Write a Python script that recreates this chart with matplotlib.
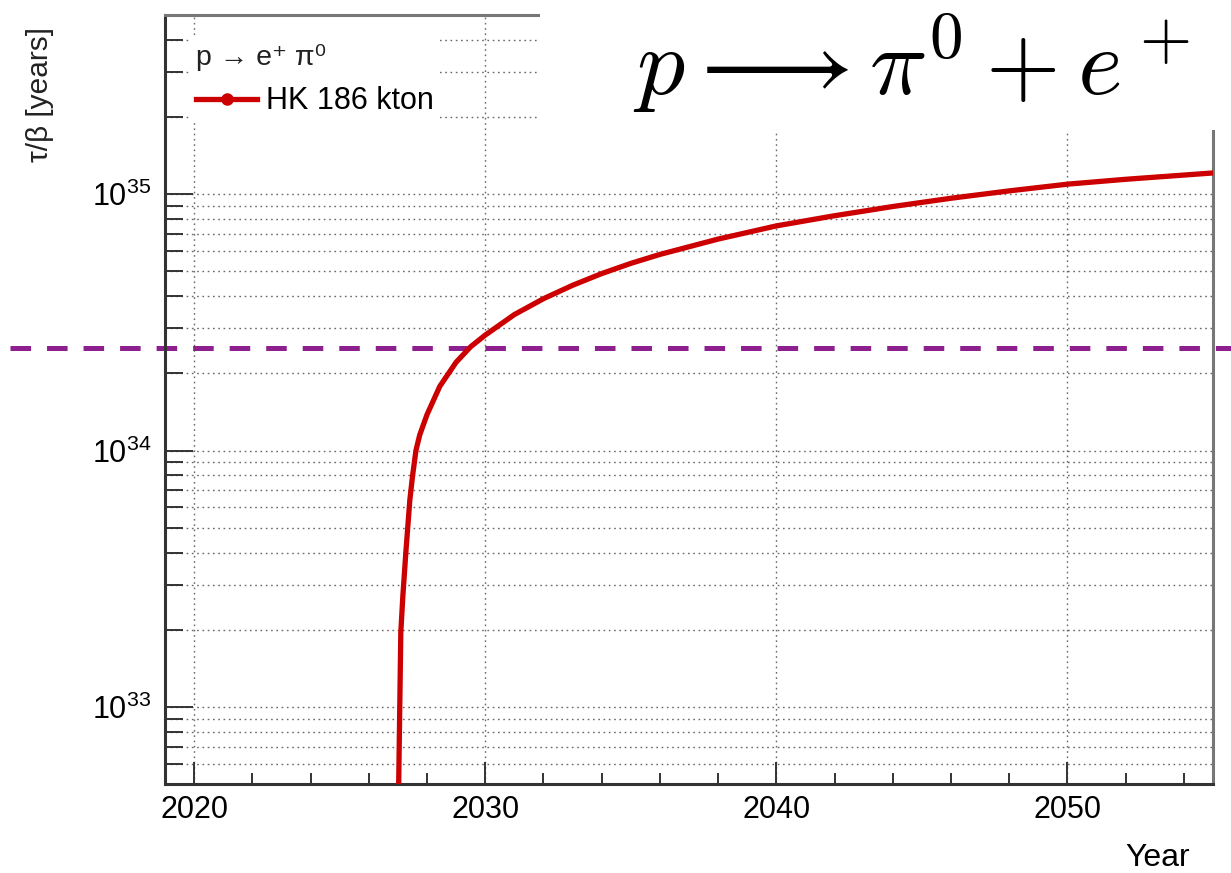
import matplotlib
matplotlib.use("Agg")
import matplotlib.pyplot as plt
from matplotlib.lines import Line2D
from matplotlib.patches import Rectangle
from matplotlib.ticker import LogLocator, MultipleLocator, FixedLocator, NullFormatter
from matplotlib.transforms import blended_transform_factory

plt.rcParams['font.family'] = ['Liberation Sans', 'DejaVu Sans']
plt.rcParams['lines.scale_dashes'] = False

# Sensitivity projection for p -> e+ pi0 (Hyper-K, 186 kton fiducial)
years = [2027.00, 2027.10, 2027.17, 2027.28, 2027.41, 2027.50, 2027.62, 2027.75,
         2028.00, 2028.44, 2029.00, 2029.50, 2030.00, 2031.00, 2032.00, 2033.00,
         2034.00, 2035.00, 2036.00, 2038.00, 2040.00, 2042.00, 2044.00, 2046.00,
         2048.00, 2050.00, 2052.00, 2055.00]
lifetime = [3.0e32, 1.95e33, 2.7e33, 4.1e33, 6.4e33, 7.9e33, 1.0e34, 1.15e34,
            1.38e34, 1.78e34, 2.21e34, 2.54e34, 2.82e34, 3.39e34, 3.91e34, 4.41e34,
            4.90e34, 5.37e34, 5.82e34, 6.68e34, 7.52e34, 8.24e34, 8.95e34, 9.64e34,
            1.03e35, 1.094e35, 1.143e35, 1.21e35]
current_limit = 2.5e34

x_major = [2020, 2030, 2040, 2050]
x_labels = ['2020', '2030', '2040', '2050']

W, H = 1231, 873
fig = plt.figure(figsize=(W / 100, H / 100), dpi=100)
ax = fig.add_axes([165 / W, 1 - 784 / H, (1213 - 165) / W, (784 - 15) / H])
ax.set_zorder(2)
ax.patch.set_visible(False)

ax.plot(years, lifetime, color='#cc0000', lw=3.8, solid_capstyle='butt',
        solid_joinstyle='round', zorder=4)

ax.set_yscale('log')
ax.set_xlim(2019, 2055)
ax.set_ylim(5e32, 5e35)

ax.xaxis.set_major_locator(FixedLocator(x_major))
ax.set_xticklabels(x_labels)
ax.xaxis.set_minor_locator(MultipleLocator(2))
ax.yaxis.set_major_locator(LogLocator(base=10, numticks=10))
ax.yaxis.set_minor_locator(LogLocator(base=10, subs=range(2, 10), numticks=20))
ax.yaxis.set_minor_formatter(NullFormatter())

grid_kw = dict(color='#444444', lw=1.0, linestyle=(0, (1.2, 2.6)), alpha=0.8)
ax.grid(True, axis='x', which='major', **grid_kw)
ax.grid(True, axis='y', which='both', **grid_kw)

ax.tick_params(axis='x', which='major', direction='in', length=16, width=1.4,
               color='#333333', labelsize=22, pad=8)
ax.tick_params(axis='x', which='minor', direction='in', length=8, width=1.4,
               color='#333333')
ax.tick_params(axis='y', which='major', direction='in', length=20, width=1.4,
               color='#333333', labelsize=22, pad=10)
ax.tick_params(axis='y', which='minor', direction='in', length=13, width=1.4,
               color='#333333')

for side in ['left', 'bottom']:
    ax.spines[side].set_linewidth(2.2)
    ax.spines[side].set_color('#333333')
for side in ['right', 'top']:
    ax.spines[side].set_linewidth(2.2)
    ax.spines[side].set_color('#777777')

ax.set_xlabel('Year', fontsize=23, loc='right')
ax.xaxis.set_label_coords((1190 - 165) / (1213 - 165), -(858 - 784) / (784 - 15))
ax.xaxis.label.set_va('center')
ax.set_ylabel('τ/β [years]', fontsize=21.5, loc='top', color='#222222')
ax.yaxis.set_label_coords(-(165 - 40) / (1213 - 165), (784 - 27) / (784 - 15))
ax.yaxis.label.set_va('center')

handle = Line2D([], [], color='#cc0000', lw=3.8, marker='o', markersize=8)
leg = ax.legend([handle], ['HK 186 kton'], title='p → e⁺ π⁰', loc='upper left',
                bbox_to_anchor=(190 / W, 1 - 38 / H), bbox_transform=fig.transFigure,
                fontsize=22, title_fontsize=20.5, frameon=True, facecolor='white',
                edgecolor='none', framealpha=1, fancybox=False, alignment='left',
                handlelength=2.0, handletextpad=0.3, borderpad=0.2,
                borderaxespad=0)
leg.get_title().set_color('#222222')

# current experimental limit across the whole figure
limit_line = Line2D([10 / W, 1.0], [current_limit, current_limit],
                    transform=blended_transform_factory(fig.transFigure, ax.transData),
                    color='#8e1f8e', lw=3.6, linestyle=(0, (14.8, 11.5)), zorder=1)
fig.add_artist(limit_line)

# annotation panel with the decay channel
fig.add_artist(Rectangle((540 / W, 1 - 130 / H), 1 - 540 / W, 130 / H,
                         transform=fig.transFigure, facecolor='white',
                         edgecolor='none', zorder=5))
fig.text(633 / W, 1 - 95 / H, r'$p\longrightarrow\pi^0+e^+$', fontsize=69,
         math_fontfamily='cm', va='baseline', ha='left', zorder=6)

fig.savefig('out.png', dpi=100)
